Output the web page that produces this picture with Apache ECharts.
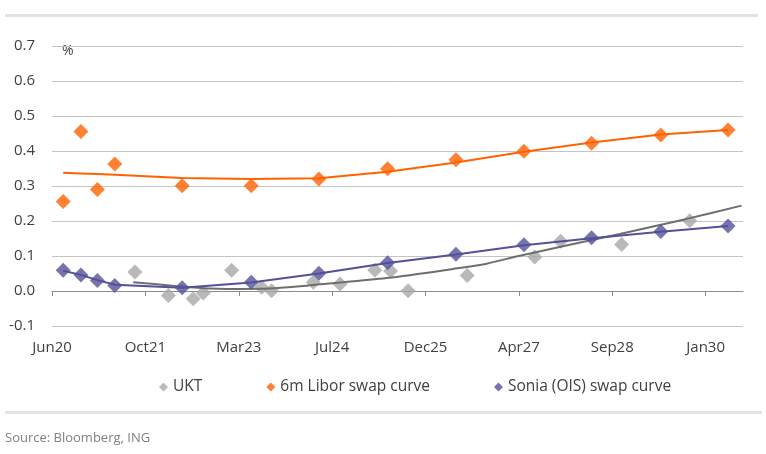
<!DOCTYPE html>
<html>
<head>
<meta charset="utf-8">
<script src="https://cdn.jsdelivr.net/npm/echarts@6/dist/echarts.min.js"></script>
<style>
  html, body { margin: 0; padding: 0; background: #fff; }
  #chart { width: 766px; height: 454px; }
</style>
</head>
<body>
<div id="chart"></div>
<script>
// x values are days after Jun 2020, one tick label every 500 days
var tickLabels = ['Jun20', 'Oct21', 'Mar23', 'Jul24', 'Dec25', 'Apr27', 'Sep28', 'Jan30'];
var tickStep = 500;

// swap curve maturities (days)
var swapDays = [60, 155, 243, 336, 697, 1067, 1429, 1797, 2163, 2527, 2889, 3260, 3620];
var liborPts = [0.256, 0.456, 0.290, 0.363, 0.301, 0.301, 0.320, 0.349, 0.375, 0.399, 0.422, 0.446, 0.460];
var liborFit = [0.338, 0.336, 0.334, 0.332, 0.323, 0.320, 0.322, 0.341, 0.367, 0.398, 0.424, 0.447, 0.460];
var soniaPts = [0.059, 0.046, 0.030, 0.016, 0.009, 0.025, 0.051, 0.081, 0.105, 0.132, 0.152, 0.170, 0.186];
var soniaFit = [0.058, 0.046, 0.031, 0.018, 0.009, 0.024, 0.050, 0.080, 0.104, 0.131, 0.151, 0.169, 0.186];

// gilts (UKT)
var ukDays = [444, 623, 756, 810, 962, 1122, 1176, 1399, 1542, 1729, 1813, 1907, 2223, 2585, 2723, 3050, 3415];
var ukPts  = [0.054, -0.013, -0.022, -0.006, 0.059, 0.011, 0.001, 0.025, 0.020, 0.059, 0.057, 0.001, 0.044, 0.097, 0.142, 0.133, 0.201];
var ukFitDays = [435, 632, 808, 989, 1167, 1344, 1435, 1792, 2148, 2327, 2505, 3040, 3398, 3692];
var ukFit     = [0.025, 0.016, 0.008, 0.006, 0.007, 0.014, 0.019, 0.037, 0.063, 0.078, 0.101, 0.163, 0.206, 0.244];

function pairs(xs, ys) {
  return xs.map(function (x, i) { return [x, ys[i]]; });
}

var font = 'Open Sans';
var orange = '#FF6200';
var blue = '#525199';
var grey = '#A8A8A8';
var tickValues = tickLabels.map(function (l, i) { return i * tickStep; });

var chart = echarts.init(document.getElementById('chart'));
chart.setOption({
  animation: false,
  grid: { left: 52, right: 23, top: 46, bottom: 128 },
  xAxis: [{
    type: 'value', min: 0, max: 3700, interval: tickStep,
    axisLine: { show: false, onZero: false },
    axisTick: { show: false },
    splitLine: { show: false },
    axisLabel: {
      margin: 14, color: '#404040', fontFamily: font, fontSize: 15,
      showMaxLabel: false,
      formatter: function (v) {
        var i = v / tickStep;
        return Number.isInteger(i) && tickLabels[i] ? tickLabels[i] : '';
      }
    }
  }, {
    // zero line with its ticks
    type: 'value', min: 0, max: 3700, position: 'bottom',
    axisLine: { onZero: true, lineStyle: { color: '#8C8C8C', width: 1 } },
    axisTick: { show: true, length: 5, customValues: tickValues, lineStyle: { color: '#8C8C8C' } },
    axisLabel: { show: false },
    splitLine: { show: false }
  }],
  yAxis: {
    type: 'value', min: -0.1, max: 0.7, interval: 0.1,
    axisLine: { show: false },
    axisTick: { show: false },
    splitLine: { lineStyle: { color: '#C4C4C4', width: 1 } },
    axisLabel: {
      margin: 17, color: '#404040', fontFamily: font, fontSize: 15,
      formatter: function (v) { return v.toFixed(1); }
    }
  },
  legend: {
    data: ['UKT', '6m Libor swap curve', 'Sonia (OIS) swap curve'],
    left: 154, top: 374,
    icon: 'diamond', itemWidth: 9, itemHeight: 9, itemGap: 64,
    textStyle: { color: '#404040', fontFamily: font, fontSize: 15.5 }
  },
  graphic: [
    { type: 'rect', shape: { x: 5, y: 14, width: 753, height: 3 }, style: { fill: '#E3E3E3' } },
    { type: 'rect', shape: { x: 5, y: 411, width: 757, height: 3 }, style: { fill: '#E3E3E3' } },
    { type: 'text', left: 62, top: 44, style: { text: '%', fill: '#404040', font: '14px "Open Sans"' } },
    { type: 'text', left: 5, top: 432, style: { text: 'Source: Bloomberg, ING', fill: '#808080', font: '13px "Open Sans"' } }
  ],
  series: [
    {
      name: 'UKT', type: 'scatter', symbol: 'diamond', symbolSize: 15,
      itemStyle: { color: grey }, data: pairs(ukDays, ukPts), z: 2
    },
    {
      name: 'UKT fit', type: 'line', showSymbol: false, smooth: 0.3,
      lineStyle: { color: '#6E6E6E', width: 2 }, data: pairs(ukFitDays, ukFit), z: 3
    },
    {
      name: '6m Libor fit', type: 'line', showSymbol: false,
      lineStyle: { color: orange, width: 2 }, data: pairs(swapDays, liborFit), z: 3
    },
    {
      name: 'Sonia fit', type: 'line', showSymbol: false,
      lineStyle: { color: blue, width: 2 }, data: pairs(swapDays, soniaFit), z: 3
    },
    {
      name: '6m Libor swap curve', type: 'scatter', symbol: 'diamond', symbolSize: 15,
      itemStyle: { color: orange }, data: pairs(swapDays, liborPts), z: 4
    },
    {
      name: 'Sonia (OIS) swap curve', type: 'scatter', symbol: 'diamond', symbolSize: 15,
      itemStyle: { color: blue }, data: pairs(swapDays, soniaPts), z: 4
    }
  ]
});
</script>
</body>
</html>
